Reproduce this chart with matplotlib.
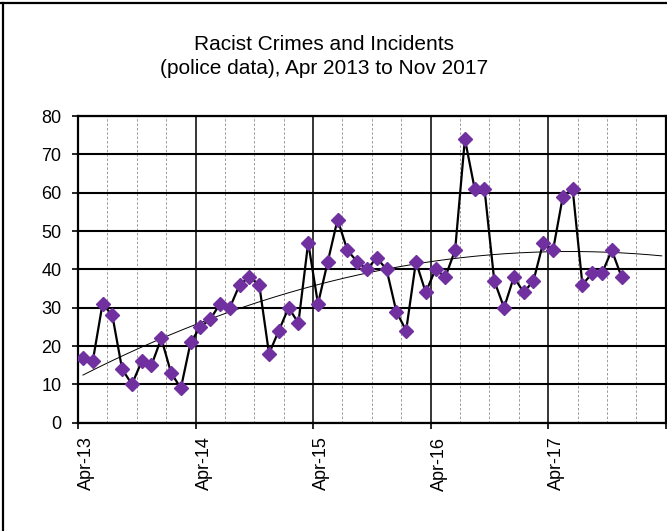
import numpy as np
import matplotlib
matplotlib.use("Agg")
import matplotlib.pyplot as plt
from matplotlib.lines import Line2D

plt.rcParams['font.family'] = ['Liberation Sans', 'DejaVu Sans']

# monthly counts, Apr 2013 .. Nov 2017
counts = [17, 16, 31, 28, 14, 10, 16, 15, 22, 13, 9, 21,
          25, 27, 31, 30, 36, 38, 36, 18, 24, 30, 26, 47,
          31, 42, 53, 45, 42, 40, 43, 40, 29, 24, 42, 34,
          40, 38, 45, 74, 61, 61, 37, 30, 38, 34, 37, 47,
          45, 59, 61, 36, 39, 39, 45, 38]
year_labels = ['Apr-13', 'Apr-14', 'Apr-15', 'Apr-16', 'Apr-17', '']

months = np.arange(len(counts)) + 0.5   # points sit mid-month

# 2nd order polynomial trendline, a few months forward
coef = np.polyfit(months, counts, 2)
tx = np.linspace(months[0], 59.6, 200)
ty = np.polyval(coef, tx)

fig = plt.figure(figsize=(6.67, 5.31), dpi=100)
ax = fig.add_axes([0.117, 0.204, 0.881, 0.5775])

ax.plot(months, counts, color='black', lw=1.6, marker='D', ms=6.8,
        mfc='#7030A0', mec='#7030A0', zorder=3)
ax.plot(tx, ty, color='black', lw=0.7, zorder=2)

ax.set_xlim(0, 60)
ax.set_ylim(0, 80)
ax.set_yticks(range(0, 81, 10))
ax.set_xticks(range(0, 61, 12))
ax.set_xticklabels(year_labels, rotation=90)
ax.set_xticks([m for m in range(3, 60, 3) if m % 12], minor=True)

ax.set_axisbelow(True)
ax.grid(axis='y', color='black', lw=1.5)
ax.grid(axis='x', which='major', color='black', lw=1.1)
ax.grid(axis='x', which='minor', color='#999999', lw=0.7, ls=(0, (2.5, 2)))

for s in ax.spines.values():
    s.set_linewidth(1.6)
ax.tick_params(axis='both', which='major', direction='out', length=4, width=1.2,
               labelsize=13)
ax.tick_params(axis='y', pad=8)
ax.tick_params(axis='x', pad=6)
ax.tick_params(axis='x', which='minor', length=0)
for lbl in ax.get_xticklabels():
    lbl.set_x(lbl.get_position()[0])
    lbl.set_horizontalalignment('left')

fig.text(0.486, 1 - 44 / 531, 'Racist Crimes and Incidents', ha='center',
         va='center', fontsize=15)
fig.text(0.486, 1 - 69 / 531, '(police data), Apr 2013 to Nov 2017', ha='center',
         va='center', fontsize=15)

# outer chart border (top and left edges visible)
fig.add_artist(Line2D([0, 1], [0.995, 0.995], color='black', lw=1.6,
                      transform=fig.transFigure))
fig.add_artist(Line2D([0.004, 0.004], [0, 0.995], color='black', lw=1.6,
                      transform=fig.transFigure))

fig.savefig('out.png', dpi=100)
